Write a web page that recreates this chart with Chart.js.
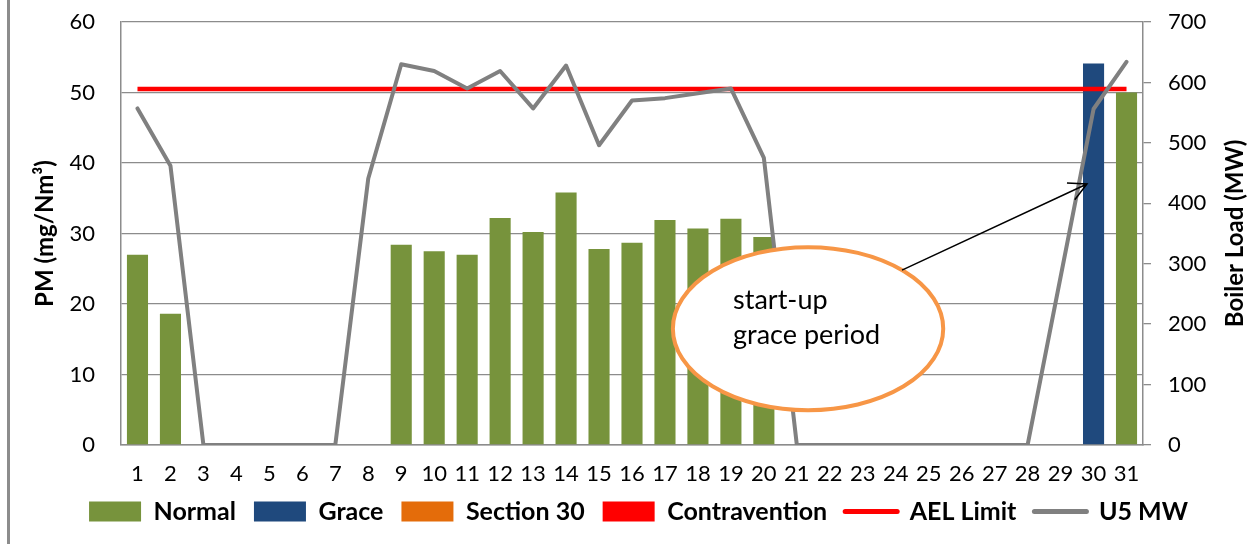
<!DOCTYPE html>
<html>
<head>
<meta charset="utf-8">
<title>PM vs Boiler Load</title>
<script src="https://cdn.jsdelivr.net/npm/chart.js@4.4.1/dist/chart.umd.min.js"></script>
<style>
  html, body { margin: 0; padding: 0; background: #fff; }
  #wrap { width: 1247px; height: 544px; }
</style>
</head>
<body>
<div id="wrap"><canvas id="pmChart" width="1247" height="544"></canvas></div>
<script>
// 日期（横轴）
const days = ["1", "2", "3", "4", "5", "6", "7", "8", "9", "10", "11", "12", "13", "14", "15", "16",
  "17", "18", "19", "20", "21", "22", "23", "24", "25", "26", "27", "28", "29", "30", "31"];

// PM 浓度 (mg/Nm3)
const normalPM = [27.0, 18.6, null, null, null, null, null, null, 28.4, 27.5, 27.0, 32.2, 30.2, 35.8,
  27.8, 28.7, 31.9, 30.7, 32.1, 29.5, null, null, null, null, null, null, null, null, null, null, 50.0];
const gracePM = [null, null, null, null, null, null, null, null, null, null, null, null, null, null,
  null, null, null, null, null, null, null, null, null, null, null, null, null, null, null, 54.1, null];
const section30PM = [];
const contraventionPM = [];
const aelLimit = [50.5, 50.5, 50.5, 50.5, 50.5, 50.5, 50.5, 50.5, 50.5, 50.5, 50.5, 50.5, 50.5, 50.5,
  50.5, 50.5, 50.5, 50.5, 50.5, 50.5, 50.5, 50.5, 50.5, 50.5, 50.5, 50.5, 50.5, 50.5, 50.5, 50.5, 50.5];

// 机组负荷 (MW)
const u5MW = [557, 462, 0, 0, 0, 0, 0, 441, 630, 619, 590, 619, 557, 628, 496, 570, 574, 582, 590, 475,
  0, 0, 0, 0, 0, 0, 0, 0, 278, 556, 634];

// 刻度
const pmTicks = [0, 10, 20, 30, 40, 50, 60];
const loadTicks = [0, 100, 200, 300, 400, 500, 600, 700];

const calloutLines = ["start-up", "grace period"];

const gridColor = "#8c8c8c";

Chart.defaults.font.family = "Lato";
Chart.defaults.color = "#000";

/**
 * 注释：椭圆、箭头、左边框、右轴标题
 */
const calloutPlugin = {
  id: "callout",
  afterDraw: function (chart) {
    const ctx = chart.ctx;
    const xs = chart.scales.x;
    const ys = chart.scales.y;
    const y1 = chart.scales.y1;

    ctx.save();

    // 左侧边框
    ctx.strokeStyle = "#8c8c8c";
    ctx.lineWidth = 3;
    ctx.beginPath();
    ctx.moveTo(8.5, 0);
    ctx.lineTo(8.5, chart.height);
    ctx.stroke();

    // 右轴标题（自下而上）
    ctx.save();
    ctx.translate(1235, (y1.top + y1.bottom) / 2);
    ctx.rotate(-Math.PI / 2);
    ctx.font = "bold 24px Lato";
    ctx.fillStyle = "#000";
    ctx.textAlign = "center";
    ctx.textBaseline = "middle";
    ctx.fillText("Boiler Load (MW)", 0, 0);
    ctx.restore();

    // 椭圆
    const cx = xs.getPixelForValue(20.34);
    const cy = ys.getPixelForValue(16.5);
    const rx = xs.getPixelForValue(4.1) - xs.getPixelForValue(0);
    const ry = ys.getPixelForValue(0) - ys.getPixelForValue(11.56);
    ctx.beginPath();
    ctx.ellipse(cx, cy, rx, ry, 0, 0, Math.PI * 2);
    ctx.fillStyle = "#fff";
    ctx.fill();
    ctx.lineWidth = 4;
    ctx.strokeStyle = "#F79646";
    ctx.stroke();

    ctx.font = "27px Lato";
    ctx.fillStyle = "#000";
    ctx.textAlign = "left";
    ctx.textBaseline = "alphabetic";
    ctx.fillText(calloutLines[0], cx - 75, cy - 20);
    ctx.fillText(calloutLines[1], cx - 75, cy + 15);

    // 箭头
    const ax = xs.getPixelForValue(23.19);
    const ay = ys.getPixelForValue(24.8);
    const bx = xs.getPixelForValue(28.8);
    const by = y1.getPixelForValue(432);
    const ang = Math.atan2(ay - by, ax - bx);
    ctx.strokeStyle = "#000";
    ctx.lineWidth = 1.5;
    ctx.beginPath();
    ctx.moveTo(ax, ay);
    ctx.lineTo(bx, by);
    ctx.moveTo(bx + 20 * Math.cos(ang + 0.48), by + 20 * Math.sin(ang + 0.48));
    ctx.lineTo(bx, by);
    ctx.lineTo(bx + 20 * Math.cos(ang - 0.48), by + 20 * Math.sin(ang - 0.48));
    ctx.stroke();

    ctx.restore();
  }
};

const ctx = document.getElementById("pmChart");

new Chart(ctx, {
  type: "bar",
  data: {
    labels: days,
    datasets: [
      { label: "Normal", data: normalPM, backgroundColor: "#77933C", order: 3 },
      { label: "Grace", data: gracePM, backgroundColor: "#1F497D", order: 3 },
      { label: "Section 30", data: section30PM, backgroundColor: "#E46C0A", order: 3 },
      { label: "Contravention", data: contraventionPM, backgroundColor: "#FF0000", order: 3 },
      {
        type: "line",
        label: "AEL Limit",
        data: aelLimit,
        borderColor: "#FF0000",
        backgroundColor: "#FF0000",
        borderWidth: 4.5,
        pointRadius: 0,
        yAxisID: "y",
        order: 2,
      },
      {
        type: "line",
        label: "U5 MW",
        data: u5MW,
        borderColor: "#808080",
        backgroundColor: "#808080",
        borderWidth: 4,
        borderCapStyle: "round",
        borderJoinStyle: "round",
        pointRadius: 0,
        tension: 0,
        yAxisID: "y1",
        order: 1,
      },
    ],
  },
  options: {
    responsive: false,
    animation: false,
    datasets: {
      bar: { grouped: false, barPercentage: 0.64, categoryPercentage: 1.0 },
    },
    layout: { padding: { top: 22, left: 30, right: 0, bottom: 10 } },
    plugins: {
      tooltip: { enabled: false },
      legend: {
        position: "bottom",
        labels: {
          usePointStyle: true,
          pointStyleWidth: 52,
          boxHeight: 20,
          padding: 18,
          color: "#000",
          font: { size: 25, weight: "bold" },
          generateLabels: function (chart) {
            return chart.data.datasets.map(function (ds, i) {
              const isLine = ds.type === "line";
              return {
                text: ds.label,
                fillStyle: isLine ? ds.borderColor : ds.backgroundColor,
                strokeStyle: isLine ? ds.borderColor : ds.backgroundColor,
                lineWidth: isLine ? 5 : 0,
                lineCap: "round",
                pointStyle: isLine ? "line" : "rect",
                hidden: false,
                datasetIndex: i,
                fontColor: "#000",
              };
            });
          },
        },
      },
    },
    scales: {
      x: {
        grid: { display: false },
        border: { display: true, color: gridColor, width: 1.5 },
        ticks: { autoSkip: false, maxRotation: 0, padding: 8, font: { size: 22 }, color: "#000" },
        afterFit: function (scale) {
          scale.height = 36;
        },
      },
      y: {
        position: "left",
        min: pmTicks[0],
        max: pmTicks[pmTicks.length - 1],
        afterBuildTicks: function (scale) {
          scale.ticks = pmTicks.map(function (v) { return { value: v }; });
        },
        grid: { color: gridColor, lineWidth: 1.3, drawTicks: false },
        border: { display: true, color: gridColor, width: 1.5 },
        ticks: { padding: 26, font: { size: 22 }, color: "#000" },
        title: {
          display: true,
          text: "PM (mg/Nm³)",
          font: { size: 24, weight: "bold" },
          color: "#000",
          padding: { top: 1, bottom: 0 },
        },
        afterFit: function (scale) {
          scale.width = 91;
          scale.paddingTop = 0;
          scale.paddingBottom = 0;
        },
      },
      y1: {
        position: "right",
        min: loadTicks[0],
        max: loadTicks[loadTicks.length - 1],
        afterBuildTicks: function (scale) {
          scale.ticks = loadTicks.map(function (v) { return { value: v }; });
        },
        grid: { drawOnChartArea: false, color: gridColor, lineWidth: 1.3, tickLength: 8 },
        border: { display: true, color: gridColor, width: 1.5 },
        ticks: { padding: 17, font: { size: 22 }, color: "#000" },
        afterFit: function (scale) {
          scale.width = 104;
          scale.paddingTop = 0;
          scale.paddingBottom = 0;
        },
      },
    },
  },
  plugins: [calloutPlugin],
});
</script>
</body>
</html>
